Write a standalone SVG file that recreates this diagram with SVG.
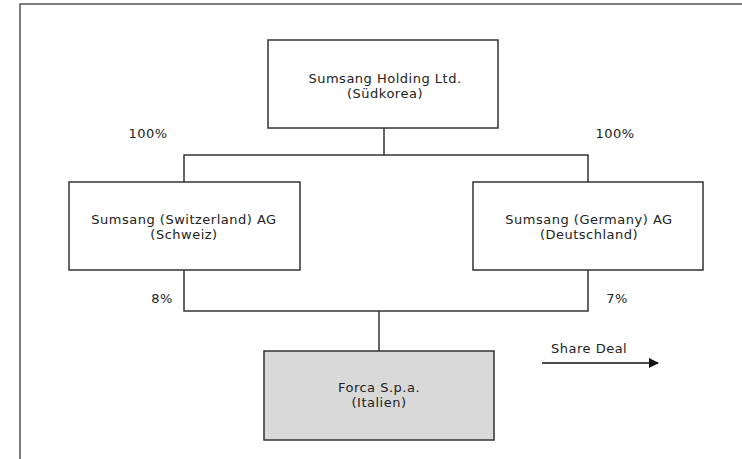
<svg xmlns="http://www.w3.org/2000/svg" width="742" height="459" viewBox="0 0 742 459">
  <style>
    .box { fill: #ffffff; stroke: #333333; stroke-width: 1.5; }
    .target { fill: #d9d9d9; }
    .line { fill: none; stroke: #333333; stroke-width: 1.5; }
    text { font-family: "DejaVu Sans", Verdana, sans-serif; font-size: 13px; letter-spacing: 0.5px; fill: #222222; }
    .c { text-anchor: middle; }
  </style>
  <defs>
    <marker id="arrow" viewBox="0 0 10 10" refX="9" refY="5" markerWidth="10" markerHeight="10" markerUnits="userSpaceOnUse" orient="auto">
      <path d="M0,0 L10,5 L0,10 z" fill="#111111"/>
    </marker>
  </defs>

  <!-- outer frame -->
  <rect x="20" y="4" width="740" height="470" fill="#ffffff" stroke="#555555" stroke-width="1.5"/>

  <!-- connectors -->
  <g id="connectors">
    <path class="line" d="M384,128 V155 M184,182 V155 H588 V182"/>
    <path class="line" d="M184,270 V311 H588 V270 M379,311 V351"/>
    <line x1="542" y1="363" x2="658" y2="363" stroke="#111111" stroke-width="1.5" marker-end="url(#arrow)"/>
  </g>

  <!-- nodes -->
  <g id="holding">
    <rect class="box" x="268" y="40" width="230" height="88"/>
    <text class="c" x="385" y="83">Sumsang Holding Ltd.</text>
    <text class="c" x="385" y="98">(Südkorea)</text>
  </g>
  <g id="switzerland">
    <rect class="box" x="69" y="182" width="231" height="88"/>
    <text class="c" x="184" y="224">Sumsang (Switzerland) AG</text>
    <text class="c" x="184" y="239">(Schweiz)</text>
  </g>
  <g id="germany">
    <rect class="box" x="473" y="182" width="230" height="88"/>
    <text class="c" x="589" y="224">Sumsang (Germany) AG</text>
    <text class="c" x="589" y="239">(Deutschland)</text>
  </g>
  <g id="forca">
    <rect class="box target" x="264" y="351" width="230" height="89"/>
    <text class="c" x="379" y="392">Forca S.p.a.</text>
    <text class="c" x="379" y="407">(Italien)</text>
  </g>

  <!-- shareholding labels -->
  <g id="labels">
    <text class="c" x="148" y="138">100%</text>
    <text class="c" x="615" y="138">100%</text>
    <text class="c" x="162" y="303">8%</text>
    <text class="c" x="617" y="303">7%</text>
    <text x="551" y="353">Share Deal</text>
  </g>
</svg>
